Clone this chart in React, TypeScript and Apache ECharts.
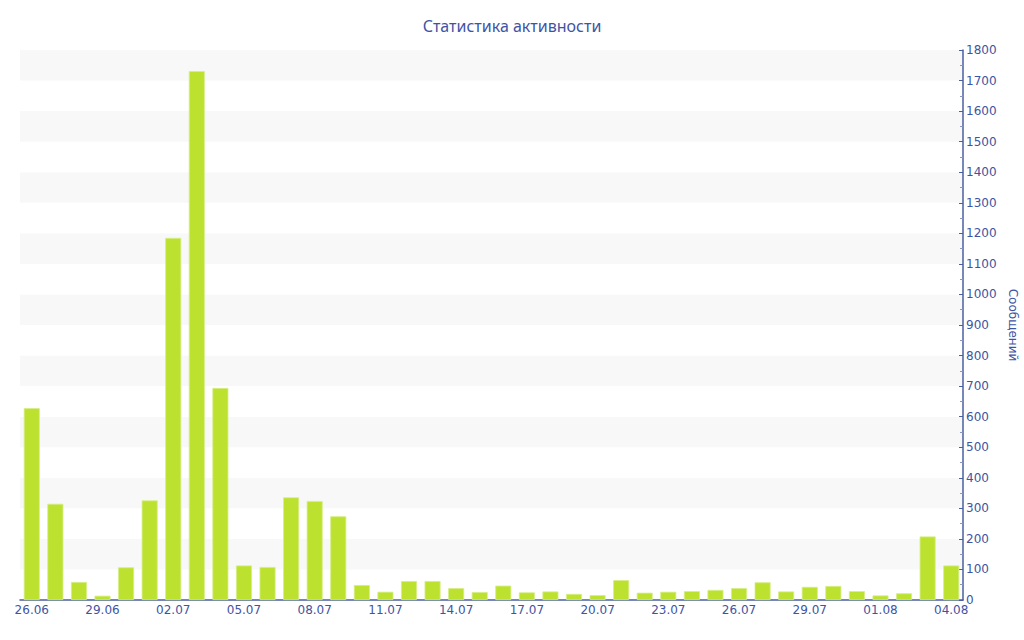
import React, { useEffect, useRef } from "react";
import * as echarts from "echarts";

const categories = [
  "26.06", "27.06", "28.06", "29.06", "30.06",
  "01.07", "02.07", "03.07", "04.07", "05.07", "06.07", "07.07", "08.07", "09.07", "10.07",
  "11.07", "12.07", "13.07", "14.07", "15.07", "16.07", "17.07", "18.07", "19.07", "20.07",
  "21.07", "22.07", "23.07", "24.07", "25.07", "26.07", "27.07", "28.07", "29.07", "30.07",
  "31.07", "01.08", "02.08", "03.08", "04.08",
];

const messages = [
  628, 315, 59, 14, 107,
  326, 1185, 1731, 694, 113, 108, 336, 324, 274, 49,
  27, 62, 62, 39, 26, 47, 25, 28, 20, 16,
  65, 24, 27, 29, 33, 39, 58, 28, 43, 46,
  29, 15, 22, 208, 113,
];

const yTicks = { min: 0, max: 1800, interval: 100 };

const TEXT = "#3e54a3";
const AXIS = "#4a5fa0";

export default function App() {
  const ref = useRef<HTMLDivElement>(null);
  useEffect(() => {
    if (!ref.current) return;
    const chart = echarts.init(ref.current, undefined, { renderer: "svg" });
    chart.setOption({
      animation: false,
      backgroundColor: "#ffffff",
      textStyle: { fontFamily: "DejaVu Sans" },
      title: {
        text: "Статистика активности",
        left: "center",
        top: 13,
        textStyle: { color: TEXT, fontSize: 16, fontWeight: "normal", fontFamily: "Noto Sans" },
      },
      grid: { left: 20, right: 61, top: 50, bottom: 40, containLabel: false, outerBoundsMode: "none" },
      xAxis: {
        type: "category",
        data: categories,
        boundaryGap: true,
        axisLine: { lineStyle: { color: AXIS, width: 1.5 } },
        axisTick: { alignWithLabel: true, interval: 2, length: 4, lineStyle: { color: AXIS } },
        axisLabel: { interval: 2, color: TEXT, fontSize: 12, margin: 4, fontFamily: "DejaVu Sans" },
        splitLine: { show: false },
      },
      yAxis: {
        type: "value",
        position: "right",
        min: yTicks.min,
        max: yTicks.max,
        interval: yTicks.interval,
        name: "Сообщений",
        nameLocation: "middle",
        nameRotate: -90,
        nameGap: 44,
        nameTextStyle: { color: TEXT, fontSize: 12, fontFamily: "DejaVu Sans" },
        axisLine: { show: true, lineStyle: { color: AXIS, width: 1.5 } },
        axisTick: { show: true, inside: true, length: 4, lineStyle: { color: AXIS } },
        minorTick: { show: true, splitNumber: 2, length: 3, lineStyle: { color: "#8a96c0" } },
        axisLabel: {
          color: TEXT,
          fontSize: 12,
          margin: 3,
          fontFamily: "DejaVu Sans",
          formatter: (v: number) => String(v),
        },
        splitLine: { show: false },
        splitArea: { show: true, areaStyle: { color: ["#ffffff", "#f8f8f8"] } },
      },
      series: [
        {
          type: "bar",
          data: messages,
          barWidth: 16,
          itemStyle: { color: "#bce22f", borderColor: "#d6ee86", borderWidth: 0.8 },
        },
      ],
    });
    return () => chart.dispose();
  }, []);
  return (
    <div
      ref={ref}
      style={{ position: "absolute", left: 0, top: 0, width: 1024, height: 640 }}
    />
  );
}
